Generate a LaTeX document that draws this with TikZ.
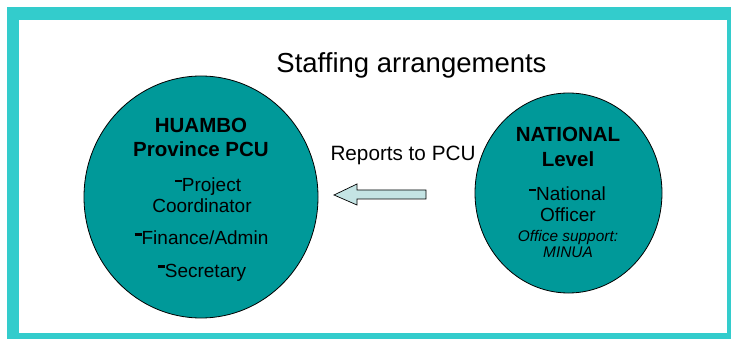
\documentclass[tikz,border=0pt]{standalone}
\usepackage{fontspec}
\setmainfont{Liberation Sans}
\usetikzlibrary{shapes.geometric}

\definecolor{framecyan}{HTML}{33CCCC}
\definecolor{unitteal}{HTML}{009999}
\definecolor{arrowfill}{HTML}{C4E4E4}

\newcommand{\bdash}{\rule[9.5pt]{7pt}{2.8pt}}

\begin{document}
\begin{tikzpicture}[x=1pt,y=-1pt,
    unit/.style={ellipse, draw=black, line width=0.8pt, fill=unitteal, inner sep=0pt},
    head/.style={anchor=base, font=\fontsize{20.5}{24}\selectfont\bfseries},
    item/.style={anchor=base, font=\fontsize{19}{22}\selectfont},
    note/.style={anchor=base, font=\fontsize{15.4}{18}\selectfont\itshape}]
    \clip (0,0) rectangle (731,339);

    \fill[framecyan] (7,7) rectangle (745,350);
    \fill[white] (19,20) rectangle (727,333);

    \node[anchor=base, font=\fontsize{27.5}{32}\selectfont] (title) at (411.5,73) {Staffing arrangements};

    \node[unit, minimum width=234, minimum height=242] (pcu) at (201,197) {};
    \node[unit, minimum width=187, minimum height=200] (national) at (568.5,193) {};

    \node[head] (huambo) at (201,133) {HUAMBO};
    \node[head] (province) at (201,157) {Province PCU};
    \node[item] (project) at (208,192) {\bdash Project};
    \node[item] (coord) at (202,213) {Coordinator};
    \node[item] (finance) at (201.5,245) {\bdash Finance/Admin};
    \node[item] (secretary) at (202,277) {\bdash Secretary};

    \node[head] (natl) at (568,142) {NATIONAL};
    \node[head] (level) at (568,167) {Level};
    \node[item] (officer1) at (567.5,201) {\bdash National};
    \node[item] (officer2) at (568,222) {Officer};
    \node[note] (support1) at (568,242) {Office support:};
    \node[note] (support2) at (568,258) {MINUA};

    \node[anchor=base west, font=\fontsize{20.7}{24}\selectfont] (reports) at (327,161) {Reports to PCU};

    \draw[fill=arrowfill, line width=0.7pt] (334,195) -- (357,184) -- (357,190) -- (426,190)
        -- (426,199) -- (357,199) -- (357,205) -- cycle;
\end{tikzpicture}
\end{document}
